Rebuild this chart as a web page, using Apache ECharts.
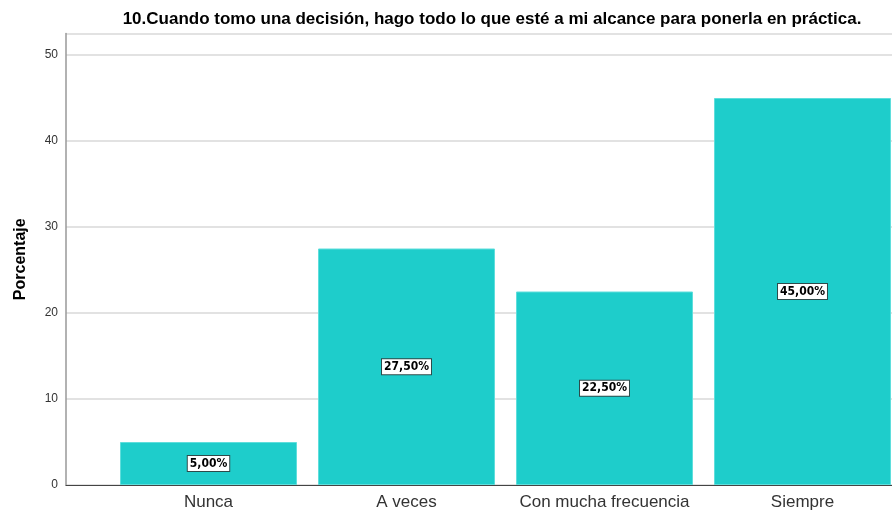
<!DOCTYPE html>
<html><head><meta charset="utf-8">
<script src="https://cdn.jsdelivr.net/npm/echarts@6/dist/echarts.min.js"></script>
<style>html,body{margin:0;padding:0;background:#fff}#c{width:892px;height:516px}</style>
</head><body><div id="c"></div>
<script>
const title = '10.Cuando tomo una decisión, hago todo lo que esté a mi alcance para ponerla en práctica.';
const categories = ['Nunca', 'A veces', 'Con mucha frecuencia', 'Siempre'];
const values = [5.00, 27.50, 22.50, 45.00];
const yMin = 0, yMax = 52.5, yStep = 10;

const chart = echarts.init(document.getElementById('c'), null, {renderer: 'canvas'});
chart.setOption({
  animation: false,
  backgroundColor: '#fff',
  title: {text: title, left: 487, top: 6, textAlign: 'center',
    textStyle: {fontFamily: 'Liberation Sans, Arial', fontWeight: 'bold', fontSize: 17, color: '#000'}},
  grid: [
    {left: 66, width: 826, top: 33.5, height: 451.5, outerBoundsMode: 'none', containLabel: false},
    {left: 109.5, width: 792, top: 33.5, height: 451.5, outerBoundsMode: 'none', containLabel: false}
  ],
  xAxis: [
    {gridIndex: 0, type: 'category', data: [''], axisLine: {lineStyle: {color: '#444', width: 1}},
      axisTick: {show: false}, axisLabel: {show: false}},
    {gridIndex: 1, type: 'category', data: categories, axisLine: {show: false}, axisTick: {show: false},
      axisLabel: {interval: 0, margin: 9, fontFamily: 'Liberation Sans, Arial', fontSize: 17, color: '#333'}}
  ],
  yAxis: [
    {gridIndex: 0, type: 'value', min: yMin, max: yMax, interval: yStep,
      name: 'Porcentaje', nameLocation: 'middle', nameGap: 37,
      nameTextStyle: {fontFamily: 'Liberation Sans, Arial', fontWeight: 'bold', fontSize: 16, color: '#000'},
      axisLine: {show: true, lineStyle: {color: '#999', width: 1.5}}, axisTick: {show: false},
      axisLabel: {fontFamily: 'Liberation Sans, Arial', fontSize: 12, color: '#333', margin: 8,
        formatter: v => (v % 10 === 0 ? String(v) : '')},
      splitLine: {lineStyle: {color: '#d9d9d9', width: 1.5}}},
    {gridIndex: 1, type: 'value', min: yMin, max: yMax, interval: yStep, show: false, splitLine: {show: false}}
  ],
  series: [{
    type: 'bar', xAxisIndex: 1, yAxisIndex: 1, data: values, barWidth: 177,
    itemStyle: {color: '#1ecdcb', borderColor: '#5fdedc', borderWidth: 1},
    label: {show: true, position: 'inside',
      formatter: p => p.value.toFixed(2).replace('.', ',') + '%',
      fontFamily: 'DejaVu Sans Condensed, DejaVu Sans, sans-serif', fontWeight: 'bold', fontSize: 12, color: '#000',
      backgroundColor: '#fff', borderColor: '#2d4a4a', borderWidth: 1, padding: [2, 2, 1, 2]}
  }]
});
</script></body></html>
